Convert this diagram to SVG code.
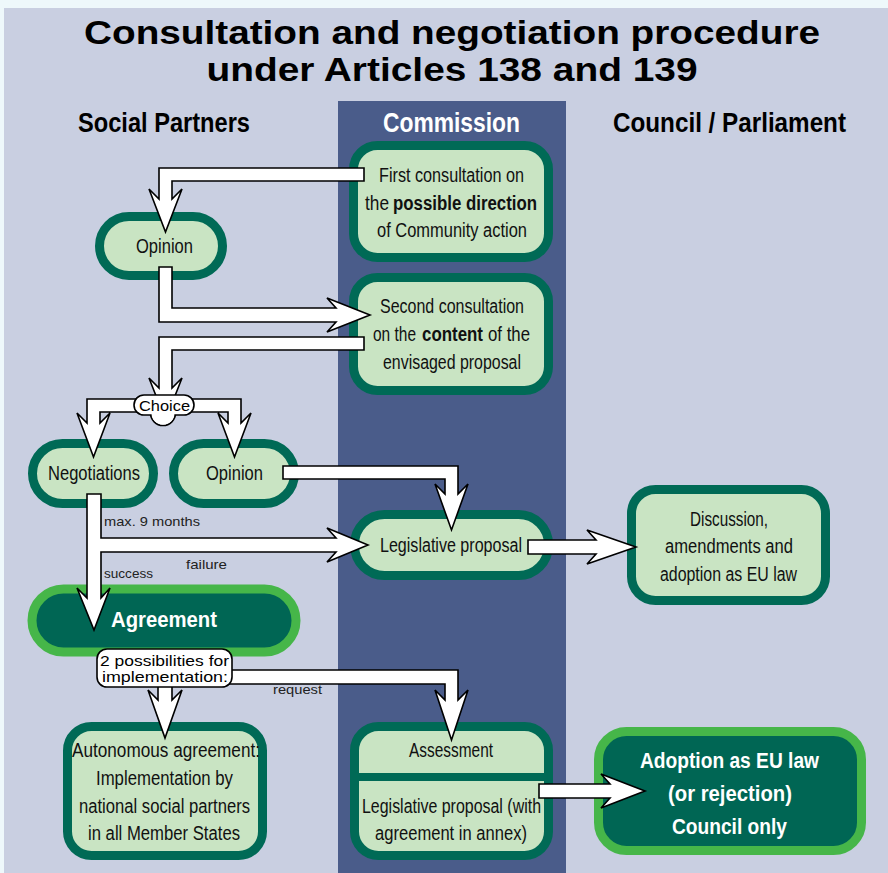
<svg xmlns="http://www.w3.org/2000/svg" width="888" height="873" viewBox="0 0 888 873">
<style>
.n{fill:#c9e4c3;stroke:#006a56;stroke-width:9}
.a{fill:#006654;stroke:#46b649;stroke-width:9}
.c{fill:#fff;stroke:#000;stroke-width:1.6;stroke-linejoin:miter}
text{font-family:"Liberation Sans",Arial,sans-serif}
.t{font-size:19.5px;fill:#111;text-anchor:middle}
.l{font-size:19.5px;fill:#111}
.b{font-size:19.5px;fill:#111;font-weight:bold}
.w{font-size:22px;font-weight:bold;fill:#fff;text-anchor:middle}
.s{font-size:13px;fill:#222}
.h{font-size:28px;font-weight:bold;fill:#000;text-anchor:middle}
.ti{font-size:33px;font-weight:bold;fill:#000;text-anchor:middle}
.bb{font-size:14.5px;fill:#000;text-anchor:middle}
</style>
<rect x="0" y="0" width="888" height="873" fill="#eef8fb"/>
<rect x="4" y="8" width="884" height="865" fill="#c9cfe1"/>
<rect x="338" y="101" width="228" height="772" fill="#4a5c8a"/>
<g id="title">
<text class="ti" x="452" y="44" textLength="736" lengthAdjust="spacingAndGlyphs">Consultation and negotiation procedure</text>
<text class="ti" x="452" y="81" textLength="491" lengthAdjust="spacingAndGlyphs">under Articles 138 and 139</text>
</g>
<g id="headers">
<text class="h" x="164" y="132" textLength="172" lengthAdjust="spacingAndGlyphs">Social Partners</text>
<text class="h" x="451.5" y="132" textLength="137" lengthAdjust="spacingAndGlyphs" style="fill:#fff">Commission</text>
<text class="h" x="729.5" y="132" textLength="233" lengthAdjust="spacingAndGlyphs">Council / Parliament</text>
</g>
<g id="first-consultation">
<rect class="n" x="353.5" y="145.5" width="195" height="112" rx="24"/>
<text class="t" x="451.5" y="182" textLength="145" lengthAdjust="spacingAndGlyphs">First consultation on</text>
<text class="l" x="365" y="210" textLength="24" lengthAdjust="spacingAndGlyphs">the</text>
<text class="b" x="393" y="210" textLength="144" lengthAdjust="spacingAndGlyphs">possible direction</text>
<text class="t" x="452" y="237" textLength="150" lengthAdjust="spacingAndGlyphs">of Community action</text>
</g>
<g id="opinion-1">
<rect class="n" x="99.5" y="216.5" width="123" height="59" rx="29.5"/>
<text class="t" x="164.5" y="253" textLength="57" lengthAdjust="spacingAndGlyphs">Opinion</text>
</g>
<g id="second-consultation">
<rect class="n" x="353.5" y="277.5" width="195" height="113" rx="24"/>
<text class="t" x="452" y="313" textLength="144" lengthAdjust="spacingAndGlyphs">Second consultation</text>
<text class="l" x="373" y="341" textLength="43" lengthAdjust="spacingAndGlyphs">on the</text>
<text class="b" x="422" y="341" textLength="61" lengthAdjust="spacingAndGlyphs">content</text>
<text class="l" x="488" y="341" textLength="42" lengthAdjust="spacingAndGlyphs">of the</text>
<text class="t" x="452" y="369" textLength="138" lengthAdjust="spacingAndGlyphs">envisaged proposal</text>
</g>
<g id="negotiations">
<rect class="n" x="32.5" y="443.5" width="121" height="60" rx="30"/>
<text class="t" x="94" y="480" textLength="92" lengthAdjust="spacingAndGlyphs">Negotiations</text>
</g>
<g id="opinion-2">
<rect class="n" x="173.5" y="443.5" width="121" height="60" rx="30"/>
<text class="t" x="234.5" y="480" textLength="57" lengthAdjust="spacingAndGlyphs">Opinion</text>
</g>
<g id="legislative-proposal">
<rect class="n" x="354.5" y="514.5" width="194" height="61" rx="30"/>
<text class="t" x="451" y="552" textLength="142" lengthAdjust="spacingAndGlyphs">Legislative proposal</text>
</g>
<g id="discussion">
<rect class="n" x="631.5" y="489.5" width="194" height="111" rx="24"/>
<text class="t" x="729" y="526" textLength="78" lengthAdjust="spacingAndGlyphs">Discussion,</text>
<text class="t" x="729" y="553" textLength="128" lengthAdjust="spacingAndGlyphs">amendments and</text>
<text class="t" x="728.5" y="581" textLength="137" lengthAdjust="spacingAndGlyphs">adoption as EU law</text>
</g>
<g id="agreement">
<rect class="a" x="32" y="589" width="264" height="63" rx="31.5"/>
<text class="w" x="164" y="627" textLength="106" lengthAdjust="spacingAndGlyphs">Agreement</text>
</g>
<g id="autonomous">
<rect class="n" x="67.5" y="726.5" width="195" height="129" rx="24"/>
<text class="t" x="166" y="757" textLength="188" lengthAdjust="spacingAndGlyphs">Autonomous agreement:</text>
<text class="t" x="164.5" y="785" textLength="137" lengthAdjust="spacingAndGlyphs">Implementation by</text>
<text class="t" x="164.5" y="813" textLength="171" lengthAdjust="spacingAndGlyphs">national social partners</text>
<text class="t" x="164" y="840" textLength="152" lengthAdjust="spacingAndGlyphs">in all Member States</text>
</g>
<g id="assessment">
<rect class="n" x="354.5" y="726.5" width="194" height="129" rx="24"/>
<line x1="354" y1="777" x2="549" y2="777" stroke="#006a56" stroke-width="8"/>
<text class="t" x="451" y="757" textLength="84" lengthAdjust="spacingAndGlyphs">Assessment</text>
<text class="t" x="451.5" y="813" textLength="179" lengthAdjust="spacingAndGlyphs">Legislative proposal (with</text>
<text class="t" x="451" y="840" textLength="152" lengthAdjust="spacingAndGlyphs">agreement in annex)</text>
</g>
<g id="adoption">
<rect class="a" x="598.5" y="731.5" width="263" height="119" rx="28"/>
<text class="w" x="729.5" y="768" textLength="179" lengthAdjust="spacingAndGlyphs">Adoption as EU law</text>
<text class="w" x="730" y="801" textLength="124" lengthAdjust="spacingAndGlyphs">(or rejection)</text>
<text class="w" x="729.5" y="834" textLength="115" lengthAdjust="spacingAndGlyphs">Council only</text>
</g>
<g id="connectors">
<path class="c" d="M364,168 L159,168 L159,199 L149,189 L165.5,232 L182,189 L172,199 L172,181 L364,181 Z"/>
<path class="c" d="M159,267 L172,267 L172,308 L336,308 L327,298 L370,315 L327,332 L336,322 L159,322 Z"/>
<path class="c" d="M364,337 L159,337 L159,388 L149,378 L165.5,420 L182,378 L172,388 L172,350 L364,350 Z"/>
<path class="c" d="M87,399 L241,399 L241,423 L251,413 L234.5,457 L218,413 L228,423 L228,412 L100,412 L100,423 L110,413 L93.5,457 L77,413 L87,423 Z"/>
<path class="c" d="M283,466 L458,466 L458,494 L468,484 L451.5,530 L435,484 L445,494 L445,479 L283,479 Z"/>
<path class="c" d="M87,494 L101,494 L101,538 L336,538 L327,528 L368,545 L327,562 L336,552 L101,552 L101,598 L110,588 L94,630 L77,588 L87,598 Z"/>
<path class="c" d="M528,540 L596,540 L587,530 L636,547 L587,564 L596,554 L528,554 Z"/>
<path class="c" d="M158,670 L172,670 L172,700 L182,690 L165,738 L148,690 L158,700 Z"/>
<path class="c" d="M225,670 L458,670 L458,700 L468,690 L451.5,740 L435,690 L445,700 L445,684 L225,684 Z"/>
<path class="c" d="M539,784 L610,784 L601,774 L645,791 L601,808 L610,798 L539,798 Z"/>
</g>
<g id="choice">
<circle cx="163" cy="413" r="12.5" fill="#fff" stroke="#000" stroke-width="1.6"/>
<rect x="134" y="395" width="60" height="20" rx="10" fill="#fff" stroke="#000" stroke-width="1.6"/>
<circle cx="163" cy="413" r="11.5" fill="#fff"/>
<rect x="136" y="396.5" width="56" height="17" rx="8.5" fill="#fff"/>
<text class="bb" x="164.5" y="411" textLength="51" lengthAdjust="spacingAndGlyphs">Choice</text>
</g>
<g id="implementation-bubble">
<rect x="97" y="649" width="135" height="38" rx="10" fill="#fff" stroke="#000" stroke-width="1.6"/>
<text class="bb" x="164.5" y="666" textLength="129" lengthAdjust="spacingAndGlyphs">2 possibilities for</text>
<text class="bb" x="165" y="682" textLength="126" lengthAdjust="spacingAndGlyphs">implementation:</text>
</g>
<g id="labels">
<text class="s" x="104" y="526" textLength="96" lengthAdjust="spacingAndGlyphs">max. 9 months</text>
<text class="s" x="186" y="569" textLength="41" lengthAdjust="spacingAndGlyphs">failure</text>
<text class="s" x="104" y="578" textLength="49" lengthAdjust="spacingAndGlyphs">success</text>
<text class="s" x="273" y="694" textLength="49" lengthAdjust="spacingAndGlyphs">request</text>
</g>
</svg>
